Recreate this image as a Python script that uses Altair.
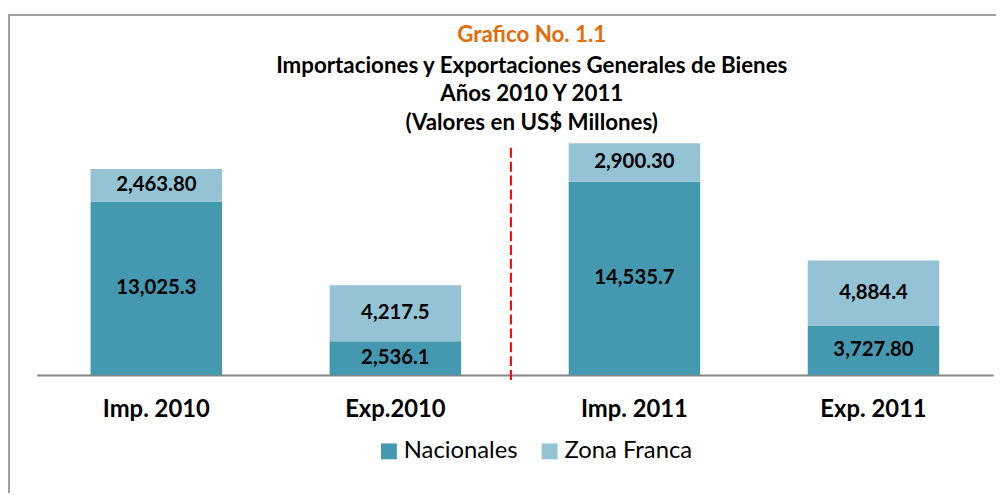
import altair as alt
import pandas as pd

categorias = ["Imp. 2010", "Exp.2010", "Imp. 2011", "Exp. 2011"]
series = ["Nacionales", "Zona Franca"]
nacionales = [13025.3, 2536.1, 14535.7, 3727.80]
zona_franca = [2463.80, 4217.5, 2900.30, 4884.4]
etiquetas_nac = ["13,025.3", "2,536.1", "14,535.7", "3,727.80"]
etiquetas_zf = ["2,463.80", "4,217.5", "2,900.30", "4,884.4"]
titulo = "Grafico No. 1.1"
subtitulos = [
    "Importaciones y Exportaciones Generales de Bienes",
    "Años 2010 Y 2011",
    "(Valores en US$ Millones)",
]

FONT = "Lato"
C_NAC = "#4498B0"
C_ZF = "#93C3D4"

rows = []
for i, c in enumerate(categorias):
    rows.append({"cat": c, "serie": series[0], "valor": nacionales[i], "etq": etiquetas_nac[i], "orden": 0})
    rows.append({"cat": c, "serie": series[1], "valor": zona_franca[i], "etq": etiquetas_zf[i], "orden": 1})
df = pd.DataFrame(rows)

W, H = 964, 268

x_enc = alt.X(
    "cat:N",
    sort=categorias,
    scale=alt.Scale(paddingInner=0.45, paddingOuter=0.225),
    axis=alt.Axis(
        title=None, ticks=False, labelAngle=0, labelFont=FONT, labelFontSize=24,
        labelFontWeight="bold", labelColor="#000000", labelPadding=23,
        domainColor="#868686", domainWidth=2,
    ),
)
y_scale = alt.Scale(domain=[0, 20000])

base = alt.Chart(df)

bars = base.mark_bar().encode(
    x=x_enc,
    y=alt.Y("valor:Q", stack="zero", scale=y_scale, axis=None),
    color=alt.Color(
        "serie:N",
        scale=alt.Scale(domain=series, range=[C_NAC, C_ZF]),
        legend=alt.Legend(
            title=None, orient="none", direction="horizontal",
            legendX=343, legendY=333, symbolType="square", symbolSize=256,
            symbolStrokeWidth=0, labelFont=FONT, labelFontSize=24,
            labelColor="#000000", columnPadding=20, labelOffset=3,
        ),
    ),
    order=alt.Order("orden:Q", sort="ascending"),
)

labels = base.transform_stack(
    stack="valor", groupby=["cat"], as_=["v0", "v1"], sort=[alt.SortField("orden", order="ascending")]
).transform_calculate(mid="(datum.v0 + datum.v1) / 2").mark_text(
    font=FONT, fontSize=20.5, fontWeight="bold", color="#000000", baseline="middle"
).encode(
    x=alt.X("cat:N", sort=categorias),
    y=alt.Y("mid:Q", scale=y_scale),
    text="etq:N",
)

divider = alt.Chart(pd.DataFrame({"d": [0]})).mark_rule(
    color="#FF0000", strokeWidth=2, strokeDash=[10, 4]
).encode(x=alt.value(478), y=alt.value(39), y2=alt.value(274))

tit_df = pd.DataFrame({
    "t": [titulo] + subtitulos,
    "c": ["#E36C09", "#000000", "#000000", "#000000"],
    "yy": [-75, -43, -15, 14],
})
titles = alt.Chart(tit_df).mark_text(
    font=FONT, fontSize=22.5, fontWeight="bold", align="center", baseline="middle"
).encode(
    x=alt.value(499),
    y=alt.Y("yy:Q", scale=None),
    text="t:N",
    color=alt.Color("c:N", scale=None),
)

border_top = alt.Chart(pd.DataFrame({"d": [0]})).mark_rule(color="#A0A0A0", strokeWidth=2).encode(
    x=alt.value(-29), x2=alt.value(W + 3), y=alt.value(-95)
)
border_left = alt.Chart(pd.DataFrame({"d": [0]})).mark_rule(color="#A0A0A0", strokeWidth=2).encode(
    x=alt.value(-28), y=alt.value(-95), y2=alt.value(387)
)

chart = alt.layer(bars, labels, divider, titles, border_top, border_left).properties(
    width=W, height=H,
    autosize=alt.AutoSizeParams(type="none"),
    padding={"left": 29, "top": 100, "right": 3, "bottom": 119},
).configure(background="#FFFFFF").configure_view(strokeWidth=0)

chart.save("out.html", embed_options={"renderer": "svg", "actions": False})
